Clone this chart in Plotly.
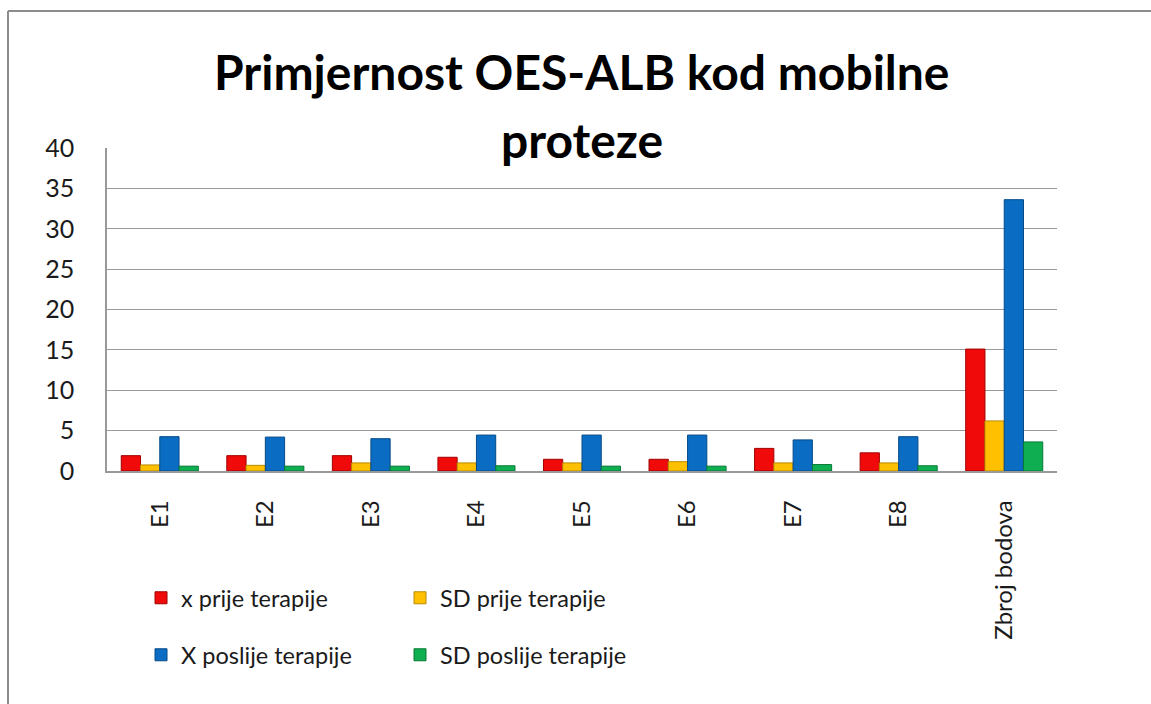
import plotly.graph_objects as go

categories = ["E1", "E2", "E3", "E4", "E5", "E6", "E7", "E8", "Zbroj bodova"]
x_prije = [1.9, 1.9, 1.9, 1.7, 1.45, 1.45, 2.8, 2.25, 15.1]
sd_prije = [0.75, 0.7, 1.0, 1.0, 1.0, 1.15, 1.0, 1.0, 6.2]
x_poslije = [4.25, 4.2, 4.0, 4.45, 4.45, 4.45, 3.85, 4.25, 33.6]
sd_poslije = [0.6, 0.6, 0.6, 0.65, 0.6, 0.6, 0.8, 0.65, 3.6]

series_names = ["x prije terapije", "SD prije terapije", "X poslije terapije", "SD poslije terapije"]
series_values = [x_prije, sd_prije, x_poslije, sd_poslije]
colors = ["#F00A0A", "#FFC000", "#0A6CC2", "#0FAE50"]
edges = ["#A00000", "#B88A00", "#064A88", "#087838"]
legends = ["legend", "legend", "legend2", "legend2"]

FONT = "Lato"

fig = go.Figure()
for name, vals, c, e, lg in zip(series_names, series_values, colors, edges, legends):
    fig.add_trace(go.Bar(
        x=categories, y=vals, name=name,
        marker=dict(color=c, line=dict(color=e, width=1)),
        legend=lg,
    ))

OFF = 0  # body margin removed below
W, H = 1151, 704
L, T = 107 - OFF, 148 - OFF
R = W - (1057 - OFF)
B = H - (471 - OFF)
pw, ph = W - L - R, H - T - B

def px(xp):
    return (xp - OFF - L) / pw

def py(yp):
    return (H - B - (yp - OFF)) / ph

fig.update_layout(
    width=W, height=H,
    margin=dict(l=L, r=R, t=T, b=B, autoexpand=False),
    paper_bgcolor="white", plot_bgcolor="white",
    barmode="group", bargap=0.27, bargroupgap=0.0,
    font=dict(family=FONT, color="#1a1a1a"),
    showlegend=True,
    legend=dict(orientation="h", x=px(141), y=py(598), xanchor="left", yanchor="middle",
                entrywidth=214, entrywidthmode="pixels",
                font=dict(family=FONT, size=23.5, color="#1a1a1a"), bgcolor="rgba(0,0,0,0)"),
    legend2=dict(orientation="h", x=px(141), y=py(655), xanchor="left", yanchor="middle",
                 entrywidth=214, entrywidthmode="pixels",
                 font=dict(family=FONT, size=23.5, color="#1a1a1a"), bgcolor="rgba(0,0,0,0)"),
    xaxis=dict(
        tickangle=-90, tickfont=dict(family=FONT, size=24, color="#1a1a1a"),
        showline=True, linecolor="#999999", linewidth=1.5, mirror=False,
        ticks="", showgrid=False, ticklabelstandoff=18,
    ),
    yaxis=dict(
        range=[0, 40], dtick=5, tickfont=dict(family=FONT, size=25, color="#1a1a1a"),
        showline=True, linecolor="#999999", linewidth=1.5,
        showgrid=True, gridcolor="#9a9a9a", gridwidth=1.3,
        ticks="", ticklabelstandoff=26, zeroline=False,
    ),
    annotations=[
        dict(text="<b>Primjernost OES-ALB kod mobilne</b>", xref="paper", yref="paper",
             x=0.5, y=py(72), xanchor="center", yanchor="middle", showarrow=False,
             font=dict(family=FONT, size=48, color="#000000")),
        dict(text="<b>proteze</b>", xref="paper", yref="paper",
             x=0.5, y=py(140), xanchor="center", yanchor="middle", showarrow=False,
             font=dict(family=FONT, size=48, color="#000000")),
    ],
    shapes=[
        dict(type="line", xref="paper", yref="paper",
             x0=px(8), x1=px(1151), y0=py(11), y1=py(11),
             line=dict(color="#8c8c8c", width=2), layer="below"),
        dict(type="line", xref="paper", yref="paper",
             x0=px(8), x1=px(8), y0=py(11), y1=py(704),
             line=dict(color="#8c8c8c", width=2), layer="below"),
    ],
)

fig.write_html(
    "out.html",
    config={"displayModeBar": False},
    post_script="document.body.style.margin='0';document.body.style.overflow='hidden';",
)
